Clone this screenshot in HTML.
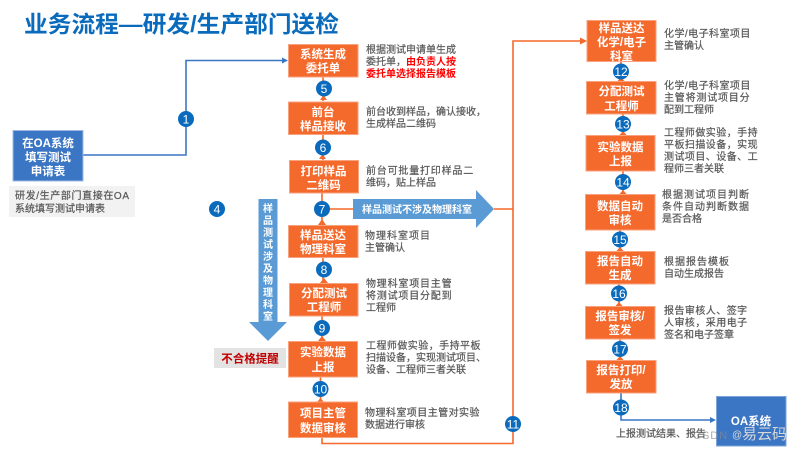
<!DOCTYPE html>
<html><head><meta charset="utf-8">
<style>
html,body{margin:0;padding:0;background:#fff;width:800px;height:450px;overflow:hidden}
svg{display:block}
text{font-family:"Liberation Sans","Noto Sans CJK SC",sans-serif}
.n{fill:#f4692c;stroke:#f9a27e;stroke-width:1}
.w{fill:#fff;font-size:11.5px;font-weight:700;text-anchor:middle}
.d{fill:#595959;font-size:10px;stroke:#595959;stroke-width:.22}
.r{fill:#ff0000;stroke:none;font-weight:700}
.s1{letter-spacing:1px}.s8{letter-spacing:.8px}.s5{letter-spacing:.45px}
.c{fill:#0a6bbd}
.t{fill:#fff;font-size:12px;text-anchor:middle}
.o{stroke:#f4692c;stroke-width:1.6;fill:none}
.b{stroke:#3a76c4;stroke-width:1.6;fill:none}
.oa{fill:#f4692c}.ba{fill:#3a76c4}
</style></head><body>
<svg width="800" height="450" viewBox="0 0 800 450" xmlns="http://www.w3.org/2000/svg">
<text x="24" y="32" font-size="23" font-weight="700" fill="#0a6bbd" textLength="315" lengthAdjust="spacingAndGlyphs">业务流程—研发/生产部门送检</text>

<!-- connectors -->
<path class="b" d="M83 155H186V60.500H284"/>
<path class="ba" d="M288 60.500l-6-3v6z"/>
<path class="o" d="M323 77V101M323 134V160M322 193V225M323 257V283M322 316V341M320.500 377V402"/>
<path class="oa" d="M318 225h8l-4-6zM320 283h8l-4-5zM318 341h8l-4-5zM317 402h7l-3.500-4zM320 100h7l-3.500-5zM319 159h7l-3.500-5z"/>
<path class="o" d="M322 209H353M494 209H513M322 438V443.500H513V41H583"/>
<path class="oa" d="M587 41l-7-3.500v7z"/>
<path class="o" d="M621 61V81M623 114V135M623 171V194M620 230V251M619 284V306M620 339V360"/>
<path class="oa" d="M617.500 81h7l-3.500-4zM619.500 135h7l-3.500-4zM619.500 194h7l-3.500-4zM616.500 251h7l-3.500-4zM615.500 306h7l-3.500-4zM616.500 360h7l-3.500-4z"/>
<path class="b" d="M621 393V420H712"/>
<path class="ba" d="M716 420l-6-3v6z"/>

<!-- block arrows -->
<path fill="#5b9bd5" d="M353 199H476V190L494 209L476 228V219H353z"/>
<text x="417" y="213" fill="#fff" font-size="10" font-weight="700" text-anchor="middle">样品测试不涉及物理科室</text>
<path fill="#5b9bd5" d="M258.500 199H277.500V322H287L268 341L249 322H258.500z"/>
<g fill="#fff" font-size="10" font-weight="700" text-anchor="middle">
<text x="268" y="212">样</text><text x="268" y="224">品</text><text x="268" y="236">测</text><text x="268" y="248">试</text><text x="268" y="260">涉</text><text x="268" y="272">及</text><text x="268" y="284">物</text><text x="268" y="296">理</text><text x="268" y="308">科</text><text x="268" y="320">室</text>
</g>

<!-- left start -->
<rect x="13" y="130.500" width="70" height="50.500" fill="#3a76c4" stroke="#9dbbe2"/>
<text class="w" x="48" y="147">在OA系统</text>
<text class="w" x="48" y="161">填写测试</text>
<text class="w" x="48" y="175">申请表</text>
<rect x="9" y="186" width="126" height="31" fill="#f2f2f2"/>
<text class="d" x="15" y="199" textLength="114">研发/生产部门直接在OA</text>
<text class="d" x="15" y="212">系统填写测试申请表</text>

<!-- left nodes -->
<rect class="n" x="288.500" y="44.500" width="69.500" height="32.500"/>
<text class="w" x="323" y="58">系统生成</text><text class="w" x="323" y="72">委托单</text>
<rect class="n" x="288.500" y="102" width="69.500" height="32.500"/>
<text class="w" x="323" y="116">前台</text><text class="w" x="323" y="130">样品接收</text>
<rect class="n" x="289.500" y="160.500" width="69" height="32.500"/>
<text class="w" x="323.500" y="175">打印样品</text><text class="w" x="323.500" y="189">二维码</text>
<rect class="n" x="288.500" y="225.500" width="69.500" height="32"/>
<text class="w" x="323" y="239">样品送达</text><text class="w" x="323" y="253">物理科室</text>
<rect class="n" x="289.500" y="283.500" width="68.500" height="32.500"/>
<text class="w" x="324" y="297">分配测试</text><text class="w" x="324" y="311">工程师</text>
<rect class="n" x="288.500" y="341.500" width="69" height="35.500"/>
<text class="w" x="323" y="356">实验数据</text><text class="w" x="323" y="371">上报</text>
<rect class="n" x="288.500" y="402" width="69" height="35.500"/>
<text class="w" x="323" y="417">项目主管</text><text class="w" x="323" y="432">数据审核</text>

<!-- left descriptions -->
<text class="d" x="366" y="53">根据测试申请单生成</text>
<text class="d" x="366" y="65">委托单，<tspan class="r">由负责人按</tspan></text>
<text class="d r" x="366" y="77">委托单选择报告模板</text>
<text class="d" x="366" y="115">前台收到样品，确认接收，</text>
<text class="d" x="366" y="127">生成样品二维码</text>
<text class="d s8" x="366" y="174">前台可批量打印样品二</text>
<text class="d" x="366" y="186">维码，贴上样品</text>
<text class="d s1" x="365" y="239">物理科室项目</text>
<text class="d" x="365" y="251">主管确认</text>
<text class="d s8" x="366" y="287">物理科室项目主管</text>
<text class="d s8" x="366" y="299">将测试项目分配到</text>
<text class="d" x="366" y="311">工程师</text>
<text class="d s5" x="366" y="349">工程师做实验，手持平板</text>
<text class="d" x="366" y="361">扫描设备，实现测试项目、</text>
<text class="d" x="366" y="373">设备、工程师三者关联</text>
<text class="d s5" x="365" y="416">物理科室项目主管对实验</text>
<text class="d" x="365" y="428">数据进行审核</text>

<rect x="214" y="348" width="72" height="20" fill="#e3e3e3"/>
<text x="250" y="362.500" fill="#c00000" font-size="11.500" font-weight="700" text-anchor="middle">不合格提醒</text>

<!-- right nodes -->
<rect class="n" x="587" y="20.500" width="69" height="41"/>
<text class="w" x="621.500" y="32">样品送达</text><text class="w" x="621.500" y="46">化学/电子</text><text class="w" x="621.500" y="60">科室</text>
<rect class="n" x="586.500" y="81.500" width="69.500" height="32.500"/>
<text class="w" x="621.500" y="95">分配测试</text><text class="w" x="621.500" y="110">工程师</text>
<rect class="n" x="586" y="135.500" width="69" height="35.500"/>
<text class="w" x="620.500" y="151">实验数据</text><text class="w" x="620.500" y="165">上报</text>
<rect class="n" x="585.500" y="194.500" width="69.500" height="35.500"/>
<text class="w" x="620" y="210">数据自动</text><text class="w" x="620" y="224">审核</text>
<rect class="n" x="585.500" y="251.500" width="69.500" height="32.500"/>
<text class="w" x="620" y="265">报告自动</text><text class="w" x="620" y="279">生成</text>
<rect class="n" x="585.500" y="306.500" width="69.500" height="32.500"/>
<text class="w" x="620" y="320">报告审核/</text><text class="w" x="620" y="334">签发</text>
<rect class="n" x="586.500" y="360.500" width="69.500" height="32.500"/>
<text class="w" x="621" y="374">报告打印/</text><text class="w" x="621" y="388">发放</text>
<rect x="716.500" y="396.500" width="69.500" height="49.500" fill="#3a76c4" stroke="#7fa5d8"/>
<text x="751" y="425" fill="#fff" font-size="11.500" font-weight="700" text-anchor="middle">OA系统</text>

<!-- right descriptions -->
<text class="d s5" x="664" y="37">化学/电子科室项目</text>
<text class="d" x="664" y="49">主管确认</text>
<text class="d s5" x="664" y="89">化学/电子科室项目</text>
<text class="d s8" x="664" y="101">主管将测试项目分</text>
<text class="d" x="664" y="113">配到工程师</text>
<text class="d s5" x="664" y="136">工程师做实验，手持</text>
<text class="d s5" x="664" y="148">平板扫描设备，实现</text>
<text class="d s5" x="664" y="160">测试项目、设备、工</text>
<text class="d" x="664" y="172">程师三者关联</text>
<text class="d s1" x="662" y="198">根据测试项目判断</text>
<text class="d s1" x="662" y="210">条件自动判断数据</text>
<text class="d" x="662" y="222">是否合格</text>
<text class="d s1" x="664" y="265">根据报告模板</text>
<text class="d" x="664" y="277">自动生成报告</text>
<text class="d s5" x="664" y="314">报告审核人、签字</text>
<text class="d s5" x="664" y="326">人审核，采用电子</text>
<text class="d" x="664" y="338">签名和电子签章</text>
<text class="d" x="616" y="437">上报测试结果、报告</text>

<!-- circles -->
<g>
<circle class="c" cx="186" cy="119" r="8"/><text class="t" x="186" y="123.500">1</text>
<circle class="c" cx="217" cy="209" r="8"/><text class="t" x="217" y="213.500">4</text>
<circle class="c" cx="324" cy="88.500" r="8"/><text class="t" x="324" y="93">5</text>
<circle class="c" cx="323" cy="147.500" r="8"/><text class="t" x="323" y="152">6</text>
<circle class="c" cx="322" cy="209" r="8"/><text class="t" x="322" y="213.500">7</text>
<circle class="c" cx="324" cy="269.500" r="8"/><text class="t" x="324" y="274">8</text>
<circle class="c" cx="322" cy="328" r="8"/><text class="t" x="322" y="332.500">9</text>
<circle class="c" cx="320.500" cy="389" r="8"/><text class="t" x="320.500" y="393.500">10</text>
<circle class="c" cx="513" cy="424" r="8"/><text class="t" x="513" y="428.500">11</text>
<circle class="c" cx="621" cy="71.500" r="8"/><text class="t" x="621" y="76">12</text>
<circle class="c" cx="623" cy="124" r="8"/><text class="t" x="623" y="128.500">13</text>
<circle class="c" cx="623" cy="182" r="8"/><text class="t" x="623" y="186.500">14</text>
<circle class="c" cx="620" cy="239.500" r="8"/><text class="t" x="620" y="244">15</text>
<circle class="c" cx="619" cy="293.500" r="8"/><text class="t" x="619" y="298">16</text>
<circle class="c" cx="620" cy="349" r="8"/><text class="t" x="620" y="353.500">17</text>
<circle class="c" cx="621" cy="407.500" r="8"/><text class="t" x="621" y="412">18</text>
</g>

<!-- watermark -->
<text x="693" y="439" font-size="11" fill="#8a8a8a" opacity=".7" letter-spacing="1">CSDN</text>
<text x="732" y="438" font-size="10" fill="#d8d8d8">@</text>
<text x="742" y="439" font-size="15" fill="#d8d8d8">易云码</text>
</svg>
</body></html>
